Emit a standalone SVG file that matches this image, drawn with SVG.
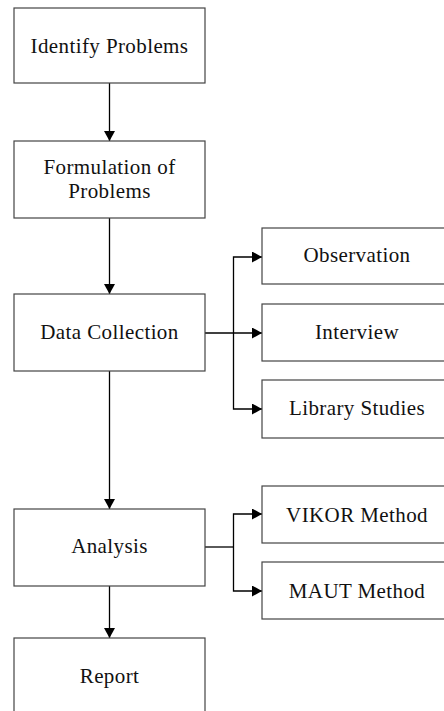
<svg xmlns="http://www.w3.org/2000/svg" width="444" height="711" viewBox="0 0 444 711">
<style>
.box{fill:#fff;stroke:#444;stroke-width:1.2}
.t{font-family:"Liberation Serif","Times New Roman",serif;font-size:21px;letter-spacing:0.4px;fill:#111;text-anchor:middle}
.c{fill:none;stroke:#000;stroke-width:1.3}
</style>
<defs>
<marker id="ah" markerWidth="11" markerHeight="11" refX="10" refY="5.5" orient="auto" markerUnits="userSpaceOnUse">
<path d="M0,0 L10,5.5 L0,11 Z" fill="#000"/>
</marker>
</defs>
<rect width="444" height="711" fill="#fff"/>
<g id="connectors">
<line class="c" x1="109.5" y1="83" x2="109.5" y2="141" marker-end="url(#ah)"/>
<line class="c" x1="109.5" y1="218" x2="109.5" y2="294" marker-end="url(#ah)"/>
<line class="c" x1="109.5" y1="371" x2="109.5" y2="509" marker-end="url(#ah)"/>
<line class="c" x1="109.5" y1="586" x2="109.5" y2="638" marker-end="url(#ah)"/>
<line class="c" x1="205" y1="333" x2="262" y2="333" marker-end="url(#ah)"/>
<path class="c" d="M233.5,333 V257 H262" marker-end="url(#ah)"/>
<path class="c" d="M233.5,333 V409 H262" marker-end="url(#ah)"/>
<line class="c" x1="205" y1="547" x2="233.5" y2="547"/>
<path class="c" d="M233.5,547 V514 H262" marker-end="url(#ah)"/>
<path class="c" d="M233.5,547 V591 H262" marker-end="url(#ah)"/>
</g>
<g id="identify"><rect class="box" x="14" y="8" width="191" height="75"/><text class="t" x="109.5" y="53">Identify Problems</text></g>
<g id="formulation"><rect class="box" x="14" y="141" width="191" height="77"/><text class="t" x="109.5" y="174">Formulation of</text><text class="t" x="109.5" y="198">Problems</text></g>
<g id="datacollection"><rect class="box" x="14" y="294" width="191" height="77"/><text class="t" x="109.5" y="339">Data Collection</text></g>
<g id="observation"><rect class="box" x="262" y="228" width="190" height="56"/><text class="t" x="357" y="262">Observation</text></g>
<g id="interview"><rect class="box" x="262" y="304" width="190" height="57"/><text class="t" x="357" y="339">Interview</text></g>
<g id="library"><rect class="box" x="262" y="380" width="190" height="58"/><text class="t" x="357" y="415">Library Studies</text></g>
<g id="analysis"><rect class="box" x="14" y="509" width="191" height="77"/><text class="t" x="109.5" y="553">Analysis</text></g>
<g id="vikor"><rect class="box" x="262" y="486" width="190" height="57"/><text class="t" x="357" y="522">VIKOR Method</text></g>
<g id="maut"><rect class="box" x="262" y="562" width="190" height="57"/><text class="t" x="357" y="598">MAUT Method</text></g>
<g id="report"><rect class="box" x="14" y="638" width="191" height="80"/><text class="t" x="109.5" y="683">Report</text></g>
</svg>
